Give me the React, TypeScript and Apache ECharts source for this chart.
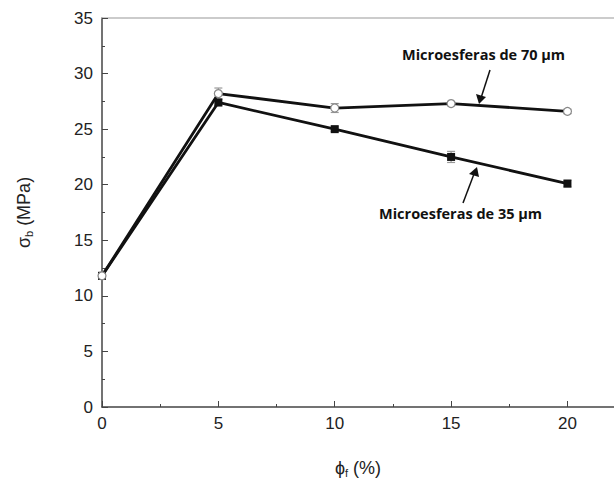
import React, { useEffect, useRef } from "react";
import * as echarts from "echarts";

const xValues = [0, 5, 10, 15, 20];
const series70 = [11.8, 28.2, 26.9, 27.3, 26.6];
const err70 = [0.3, 0.5, 0.4, 0.2, 0.2];
const series35 = [11.8, 27.4, 25.0, 22.5, 20.1];
const err35 = [0.3, 0.3, 0.2, 0.5, 0.3];
const label70 = "Microesferas de 70 µm";
const label35 = "Microesferas de 35 µm";

function errSeries(vals: number[], errs: number[]) {
  return {
    type: "custom",
    silent: true,
    z: 1,
    data: xValues.map((x, i) => [x, vals[i] - errs[i], vals[i] + errs[i]]),
    renderItem: (params: any, api: any) => {
      const lo = api.coord([api.value(0), api.value(1)]);
      const hi = api.coord([api.value(0), api.value(2)]);
      const w = 4;
      const st = { stroke: "#999", lineWidth: 1.2 };
      return {
        type: "group",
        children: [
          { type: "line", shape: { x1: lo[0], y1: lo[1], x2: hi[0], y2: hi[1] }, style: st },
          { type: "line", shape: { x1: lo[0] - w, y1: lo[1], x2: lo[0] + w, y2: lo[1] }, style: st },
          { type: "line", shape: { x1: hi[0] - w, y1: hi[1], x2: hi[0] + w, y2: hi[1] }, style: st },
        ],
      };
    },
  };
}

export default function App() {
  const ref = useRef<HTMLDivElement>(null);
  useEffect(() => {
    const chart = echarts.init(ref.current!, null, { renderer: "svg" });
    const font = "Liberation Sans, Arial, sans-serif";
    chart.setOption({
      animation: false,
      backgroundColor: "#fff",
      grid: { left: 102, right: 0, top: 18, bottom: 79, containLabel: false },
      xAxis: [
        {
          type: "value",
          min: 0,
          max: 22,
          interval: 5,
          axisLine: { lineStyle: { color: "#444", width: 1.5 } },
          axisTick: { inside: true, length: 6, lineStyle: { color: "#444" } },
          minorTick: { show: true, splitNumber: 2, length: 3, lineStyle: { color: "#444" } },
          splitLine: { show: false },
          axisLabel: {
            color: "#222",
            fontSize: 17,
            fontFamily: font,
            margin: 8,
            showMaxLabel: false,
            formatter: (v: number) => (v % 5 === 0 && v <= 20 ? String(v) : ""),
          },
          name: "{a|ϕ}{s|f}{a| (%)}",
          nameLocation: "middle",
          nameGap: 50,
          nameTextStyle: {
            rich: {
              a: { fontSize: 18, color: "#222", fontFamily: font },
              s: { fontSize: 11, color: "#222", fontFamily: font, verticalAlign: "bottom", padding: [10, 0, 0, 0] },
            },
          },
        },
        {
          type: "value",
          position: "top",
          min: 0,
          max: 22,
          axisLine: { show: true, lineStyle: { color: "#bbb", width: 1.5 } },
          axisTick: { show: false },
          axisLabel: { show: false },
          splitLine: { show: false },
        },
      ],
      yAxis: {
        type: "value",
        min: 0,
        max: 35,
        interval: 5,
        axisLine: { show: true, lineStyle: { color: "#444", width: 1.5 } },
        axisTick: { inside: true, length: 6, lineStyle: { color: "#444" } },
        minorTick: { show: true, splitNumber: 2, length: 3, lineStyle: { color: "#444" } },
        splitLine: { show: false },
        axisLabel: { color: "#222", fontSize: 17, fontFamily: font, margin: 9 },
        name: "{a|σ}{s|b}{a| (MPa)}",
        nameLocation: "middle",
        nameGap: 68,
        nameTextStyle: {
          rich: {
            a: { fontSize: 18, color: "#222", fontFamily: font },
            s: { fontSize: 11, color: "#222", fontFamily: font, verticalAlign: "bottom", padding: [10, 0, 0, 0] },
          },
        },
      },
      series: [
        errSeries(series70, err70),
        errSeries(series35, err35),
        {
          name: label35,
          type: "line",
          z: 3,
          data: xValues.map((x, i) => [x, series35[i]]),
          lineStyle: { color: "#111", width: 2.8 },
          symbol: "rect",
          symbolSize: 8,
          itemStyle: { color: "#111" },
        },
        {
          name: label70,
          type: "line",
          z: 4,
          data: xValues.map((x, i) => [x, series70[i]]),
          lineStyle: { color: "#111", width: 2.8 },
          symbol: "circle",
          symbolSize: 8,
          showAllSymbol: true,
          itemStyle: { color: "#fff", borderColor: "#888", borderWidth: 1.2 },
        },
      ],
      graphic: [
        {
          type: "text",
          left: 402,
          top: 47,
          style: { text: label70, font: "bold 14.5px 'Open Sans', sans-serif", fill: "#111" },
        },
        {
          type: "text",
          left: 379,
          top: 206,
          style: { text: label35, font: "bold 14.5px 'Open Sans', sans-serif", fill: "#111" },
        },
        {
          type: "line",
          shape: { x1: 490, y1: 70, x2: 481, y2: 98 },
          style: { stroke: "#111", lineWidth: 1.5 },
        },
        {
          type: "polygon",
          shape: { points: [[479, 104], [476, 94], [486, 97]] },
          style: { fill: "#111" },
        },
        {
          type: "line",
          shape: { x1: 463, y1: 203, x2: 474, y2: 174 },
          style: { stroke: "#111", lineWidth: 1.5 },
        },
        {
          type: "polygon",
          shape: { points: [[477, 167], [469, 174], [479, 177]] },
          style: { fill: "#111" },
        },
      ],
    });
    return () => chart.dispose();
  }, []);
  return (
    <div
      ref={ref}
      style={{ position: "fixed", left: 0, top: 0, width: 614, height: 486, background: "#fff" }}
    />
  );
}
